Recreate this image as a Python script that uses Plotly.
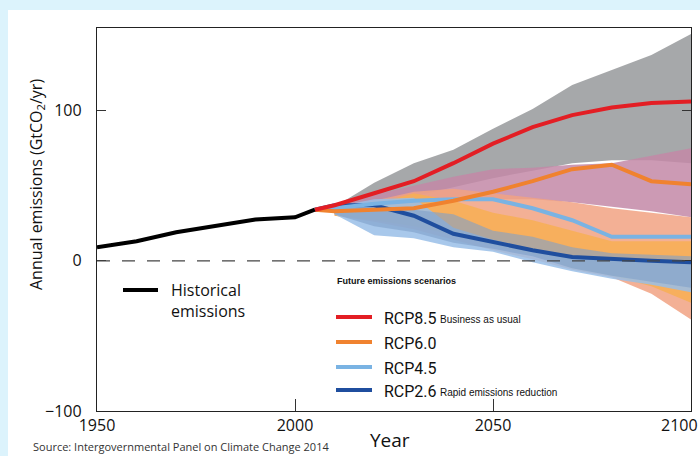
import plotly.graph_objects as go

# historical emissions (GtCO2/yr)
hist_years = [1950, 1960, 1970, 1980, 1990, 2000, 2005]
hist_vals = [9, 13, 19, 23.5, 27.5, 29, 34]

# scenario years
years = [2010, 2020, 2030, 2040, 2050, 2060, 2070, 2080, 2090, 2100]
line_years = [2005] + years

# x ticks (the last one sits at the right edge, so it is drawn right-aligned below)
x_ticks = [1950, 2000, 2050, 2100]
x_ticktext = ["1950", "2000", "2050", ""]
last_tick_label = "2100"

# central RCP pathways
rcp85 = [34, 37, 45, 53, 65, 78, 89, 97, 102, 105, 106]
rcp60 = [34, 33, 34, 35, 40, 46, 53, 61, 64, 53, 51]
rcp45 = [34, 35, 38, 40, 41, 41, 35, 27, 16, 16, 16]
rcp26 = [34, 37, 37, 30, 18, 12.5, 7, 2.5, 1, 0, -1]

# scenario ranges by concentration category (upper / lower edge)
grey_hi = [36, 52, 65, 74, 88, 101, 117, 127, 137, 151]
grey_lo = [33, 38, 43, 49, 55, 60, 65, 67, 67, 65]
mauve_hi = [35, 44, 50, 56, 61, 62, 64, 65, 70, 75]
mauve_lo = [31, 35, 38, 40, 41, 41, 39, 36, 33, 29]
salmon_hi = [34, 40, 46, 48, 45, 42, 39, 35, 32, 29]
salmon_lo = [30, 26, 21, 14, 7, 1, -6, -11, -22, -39]
orange_hi = [34, 38, 45, 40, 32, 27, 20, 13, 13, 13]
orange_lo = [30, 27, 23, 17, 10, 4, -5, -10, -17, -28]
lblue_hi = [36, 41, 42, 22, 14, 8, 3, 1, 0, -1]
lblue_lo = [31, 17, 15, 9, 6, -1, -7, -12, -16, -21]
mblue_hi = [36, 35, 34, 31, 20, 16, 9, 5, 4, 3]
mblue_lo = [31, 23, 19, 12, 8, 3, -5, -10, -14, -18]

bands = [
    (grey_hi, grey_lo, "rgba(151,153,155,0.85)"),
    (mauve_hi, mauve_lo, "rgba(195,136,167,0.85)"),
    (salmon_hi, salmon_lo, "rgba(241,162,131,0.85)"),
    (orange_hi, orange_lo, "rgba(247,175,84,0.85)"),
    (lblue_hi, lblue_lo, "rgba(153,190,231,0.85)"),
    (mblue_hi, mblue_lo, "rgba(126,160,202,0.6)"),
]

fig = go.Figure()

for hi, lo, col in bands:
    fig.add_trace(go.Scatter(
        x=years + years[::-1], y=hi + lo[::-1],
        fill="toself", fillcolor=col, mode="none",
        hoverinfo="skip", showlegend=False))

lines = [
    (rcp26, "#1f4e9e"),
    (rcp45, "#7ab3e3"),
    (rcp60, "#f0822f"),
    (rcp85, "#e31e24"),
]
for vals, col in lines:
    fig.add_trace(go.Scatter(x=line_years, y=vals, mode="lines",
                             line=dict(color=col, width=4), showlegend=False))

fig.add_trace(go.Scatter(x=hist_years, y=hist_vals, mode="lines",
                         line=dict(color="black", width=4), showlegend=False))

# plot area pixel helpers (plot spans 97..691 x, 28..411 y)
def px(x):
    return (x - 97) / 594.0

def py(y):
    return (411 - y) / 383.0

shapes = [
    # white panel on the light blue page
    dict(type="rect", xref="paper", yref="paper", x0=px(8), x1=px(720),
         y0=py(480), y1=py(10), fillcolor="white", line_width=0, layer="below"),
    # zero line
    dict(type="line", xref="x", yref="y", x0=1950, x1=2100, y0=0, y1=0,
         line=dict(color="#444", width=1.3, dash="13px,12px"), layer="above"),
    # historical legend swatch
    dict(type="line", xref="paper", yref="paper", x0=px(123), x1=px(158),
         y0=py(290), y1=py(290), line=dict(color="black", width=4)),
]

scen_names = ["RCP8.5", "RCP6.0", "RCP4.5", "RCP2.6"]
scen_cols = ["#e31e24", "#f0822f", "#7ab3e3", "#1f4e9e"]
scen_notes = ["Business as usual", "", "", "Rapid emissions reduction"]
row_y = [317, 342, 367, 390]

annotations = [
    dict(text="Historical<br>emissions", x=px(169), y=py(300), xref="paper", yref="paper",
         xanchor="left", yanchor="middle", align="left", showarrow=False,
         font=dict(family="Open Sans", size=16, color="#111")),
    dict(text="<b>Future emissions scenarios</b>", x=px(335), y=py(281),
         xref="paper", yref="paper", xanchor="left", yanchor="middle", showarrow=False,
         font=dict(family="Liberation Sans", size=9, color="#111")),
    dict(text="Annual emissions (GtCO<sub>2</sub>/yr)", textangle=-90,
         x=px(36), y=py(185), xref="paper", yref="paper", showarrow=False,
         xanchor="center", yanchor="middle",
         font=dict(family="Open Sans", size=16, color="#111")),
    dict(text="Year", x=px(390), y=py(440), xref="paper", yref="paper", showarrow=False,
         xanchor="center", yanchor="middle",
         font=dict(family="Open Sans", size=19, color="#111")),
    dict(text="Source: Intergovernmental Panel on Climate Change 2014", x=px(31), y=py(456),
         xref="paper", yref="paper", xanchor="left", yanchor="bottom", showarrow=False,
         font=dict(family="Open Sans", size=11, color="#333")),
    dict(text=last_tick_label, x=px(700), y=py(425), xref="paper", yref="paper",
         xanchor="right", yanchor="middle", showarrow=False,
         font=dict(family="Open Sans", size=16, color="#111")),
]

for name, col, note, yy in zip(scen_names, scen_cols, scen_notes, row_y):
    shapes.append(dict(type="line", xref="paper", yref="paper", x0=px(336), x1=px(372),
                       y0=py(yy), y1=py(yy), line=dict(color=col, width=4)))
    annotations.append(dict(text=name, x=px(382), y=py(yy + 1), xref="paper", yref="paper",
                            xanchor="left", yanchor="middle", showarrow=False,
                            font=dict(family="Roboto", size=16, color="#111")))
    if note:
        annotations.append(dict(text=note, x=px(438), y=py(yy + 2), xref="paper", yref="paper",
                                xanchor="left", yanchor="middle", showarrow=False,
                                font=dict(family="Liberation Sans", size=10, color="#111")))

fig.update_layout(
    width=700, height=456,
    margin=dict(l=97, r=9, t=28, b=45, autoexpand=False),
    paper_bgcolor="#dcf3fc",
    plot_bgcolor="white",
    showlegend=False,
    shapes=shapes,
    annotations=annotations,
    font=dict(family="Open Sans", size=15, color="#111"),
)

fig.update_xaxes(range=[1950, 2100], tickvals=x_ticks, ticktext=x_ticktext,
                 showgrid=False, zeroline=False, showline=True, mirror=True,
                 linecolor="#222", linewidth=1.3, ticks="inside", ticklen=12,
                 tickwidth=1.3, tickcolor="#333", tickfont=dict(size=16),
                 automargin=False)
fig.update_yaxes(range=[-100, 155], tickvals=[-100, 0, 100],
                 ticktext=["\u2212100", "0", "100"],
                 showgrid=False, zeroline=False, showline=True, mirror="ticks",
                 linecolor="#222", linewidth=1.3, ticks="inside", ticklen=9,
                 tickwidth=1.3, tickcolor="#333", tickfont=dict(size=16),
                 ticklabelstandoff=11, automargin=False)

fig.write_html("out.html", config={"displayModeBar": False},
               post_script="document.body.style.margin='0';"
                           "document.body.style.background='#dcf3fc';")
